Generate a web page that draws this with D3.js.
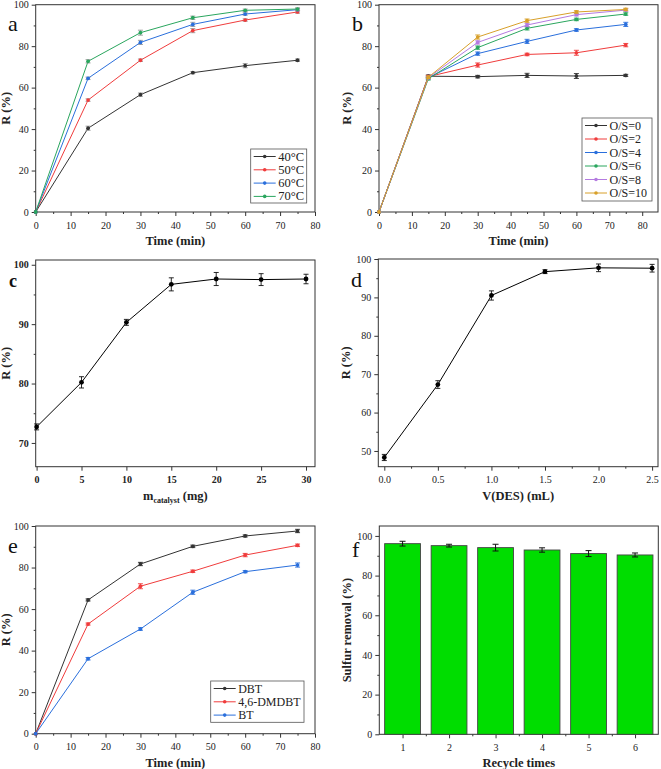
<!DOCTYPE html>
<html><head><meta charset="utf-8">
<script src="https://cdn.jsdelivr.net/npm/d3@7"></script>
<style>
body{margin:0;background:#fff;}
svg text{font-family:"Liberation Serif","Times New Roman","DejaVu Serif",serif !important;}
</style></head>
<body><svg id="c" width="661" height="769"></svg>
<script>
// ---------- DATA ----------
const timeX = [0, 15, 30, 45, 60, 75];

const tempLabels = ["40°C", "50°C", "60°C", "70°C"];
const temp40 = [0, 40.4, 56.6, 67.2, 70.6, 73.2];
const temp50 = [0, 54.0, 73.2, 87.5, 92.6, 96.5];
const temp60 = [0, 64.5, 81.8, 90.5, 95.5, 97.6];
const temp70 = [0, 72.7, 86.5, 93.7, 97.3, 97.9];
const tempErr = [[0,1.0,0.8,0.5,1.0,0.6],[0,0.6,0.6,1.0,0.6,0.6],[0,0.6,1.0,1.0,0.6,0.6],[0,0.8,1.2,0.8,0.6,0.6]];

const osLabels = ["O/S=0", "O/S=2", "O/S=4", "O/S=6", "O/S=8", "O/S=10"];
const os0  = [0, 65.5, 65.3, 65.9, 65.6, 65.9];
const os2  = [0, 65.3, 70.9, 76.0, 76.8, 80.5];
const os4  = [0, 64.8, 76.4, 82.3, 87.8, 90.5];
const os6  = [0, 64.3, 79.3, 88.6, 92.9, 95.5];
const os8  = [0, 64.8, 81.8, 90.2, 95.2, 97.4];
const os10 = [0, 65.0, 84.4, 92.3, 96.5, 97.7];
const osErr = [[0,0.6,0.6,1.0,1.2,0.5],[0,0.6,1.0,0.6,1.2,0.8],[0,0.6,0.8,1.0,0.6,1.0],[0,0.6,0.8,0.8,0.6,0.6],[0,0.6,0.8,0.8,0.6,0.6],[0,0.6,1.0,0.8,0.6,0.6]];

const catX = [0, 5, 10, 15, 20, 25, 30];
const catR = [72.7, 80.2, 90.3, 96.7, 97.6, 97.5, 97.6];
const catErr = [0.5, 0.95, 0.5, 1.1, 1.1, 1.0, 0.8];

const desX = [0, 0.5, 1.0, 1.5, 2.0, 2.5];
const desR = [48.3, 67.3, 90.5, 96.7, 97.7, 97.6];
const desErr = [0.8, 1.0, 1.2, 0.5, 1.0, 1.0];

const sulfLabels = ["DBT", "4,6-DMDBT", "BT"];
const sDBT = [0, 64.4, 81.7, 90.2, 95.2, 97.6];
const sDMDBT = [0, 52.8, 71.0, 78.2, 86.0, 90.7];
const sBT = [0, 36.1, 50.4, 68.1, 78.0, 81.2];
const sulfErr = [[0,0.5,0.8,0.6,0.5,0.8],[0,0.5,1.2,0.6,0.8,0.6],[0,0.6,0.6,1.0,0.5,1.0]];

const recycleX = [1, 2, 3, 4, 5, 6];
const recycleR = [96.1, 95.1, 94.1, 92.9, 91.1, 90.4];
const recycleErr = [1.2, 0.7, 1.7, 1.1, 1.5, 1.0];

const cBlack = "#333333", cRed = "#f03c3c", cBlue = "#2a6fdc", cGreen = "#2aa65e", cPurple = "#b47be0", cGold = "#d8a02a";

// ---------- HELPERS ----------
const svg = d3.select("#c");

function panel(o) {
  const g = svg.append("g");
  const x = d3.scaleLinear().domain(o.xd).range([o.x0, o.x1]);
  const y = d3.scaleLinear().domain(o.yd).range([o.y1, o.y0]);
  const xa = d3.axisBottom(x).tickValues(o.xt).tickSize(4).tickSizeOuter(0).tickFormat(o.xf || (d => d));
  const ya = d3.axisLeft(y).tickValues(o.yt).tickSize(4).tickSizeOuter(0).tickFormat(d => d);
  const gx = g.append("g").attr("transform", `translate(0,${o.y1})`).call(xa);
  const gy = g.append("g").attr("transform", `translate(${o.x0},0)`).call(ya);
  g.append("g").attr("transform", `translate(0,${o.y1})`)
    .call(d3.axisBottom(x).tickValues(o.xm).tickSize(2).tickSizeOuter(0).tickFormat(""));
  g.append("g").attr("transform", `translate(${o.x0},0)`)
    .call(d3.axisLeft(y).tickValues(o.ym).tickSize(2).tickSizeOuter(0).tickFormat(""));
  g.selectAll(".domain").remove();
  g.selectAll(".tick line").attr("stroke", "#333");
  [gx, gy].forEach(a => a.selectAll("text").attr("font-size", 10)
    .attr("font-weight", o.boldTicks ? "bold" : "normal").attr("fill", "#222"));
  gx.selectAll("text").attr("dy", "0.95em");
  g.append("rect").attr("x", o.x0).attr("y", o.y0).attr("width", o.x1 - o.x0).attr("height", o.y1 - o.y0)
    .attr("fill", "none").attr("stroke", "#333").attr("stroke-width", 1);
  const xt = g.append("text").attr("x", (o.x0 + o.x1) / 2).attr("y", o.y1 + 33).attr("text-anchor", "middle")
    .attr("font-weight", "bold").attr("font-size", 12.5).attr("fill", "#222");
  if (o.xsub) {
    xt.append("tspan").text(o.xtitle[0]);
    xt.append("tspan").attr("font-size", 8).attr("dy", 3).text(o.xsub);
    xt.append("tspan").attr("dy", -3).text(o.xtitle[1]);
  } else xt.text(o.xtitle);
  g.append("text").attr("transform", `translate(${o.x0 - o.ytOff},${(o.y0 + o.y1) / 2}) rotate(-90)`)
    .attr("text-anchor", "middle").attr("font-weight", "bold").attr("font-size", 12.5).attr("fill", "#222").text(o.ytitle);
  g.append("text").attr("x", o.lx).attr("y", o.ly).attr("font-size", o.lsize || 22)
    .attr("font-weight", o.lbold ? "bold" : "normal").attr("fill", "#111").text(o.letter);
  return { g, x, y };
}

function series(p, xs, ys, errs, color, r, ecolor) {
  const pts = xs.map((d, i) => ({ x: d, y: ys[i], e: errs[i] }));
  p.g.append("path").datum(pts).attr("fill", "none").attr("stroke", color).attr("stroke-width", 1)
    .attr("d", d3.line().x(d => p.x(d.x)).y(d => p.y(d.y)));
  const eb = p.g.append("g").attr("stroke", ecolor || color).attr("stroke-width", 0.9);
  pts.filter(d => d.e > 0).forEach(d => {
    const cx = p.x(d.x), t = p.y(d.y + d.e), b = p.y(d.y - d.e);
    eb.append("line").attr("x1", cx).attr("x2", cx).attr("y1", t).attr("y2", b);
    eb.append("line").attr("x1", cx - 2.5).attr("x2", cx + 2.5).attr("y1", t).attr("y2", t);
    eb.append("line").attr("x1", cx - 2.5).attr("x2", cx + 2.5).attr("y1", b).attr("y2", b);
  });
  p.g.selectAll(null).data(pts).enter().append("circle").attr("cx", d => p.x(d.x)).attr("cy", d => p.y(d.y))
    .attr("r", r).attr("fill", color);
}

function legend(bx, by, bw, bh, labels, colors, step, fs) {
  const g = svg.append("g");
  g.append("rect").attr("x", bx).attr("y", by).attr("width", bw).attr("height", bh)
    .attr("fill", "#fff").attr("stroke", "#555").attr("stroke-width", 0.8);
  labels.forEach((l, i) => {
    const yy = by + 7.5 + i * step;
    g.append("line").attr("x1", bx + 3).attr("x2", bx + 25).attr("y1", yy).attr("y2", yy)
      .attr("stroke", colors[i]).attr("stroke-width", 1);
    g.append("circle").attr("cx", bx + 14).attr("cy", yy).attr("r", 1.8).attr("fill", colors[i]);
    g.append("text").attr("x", bx + 27.5).attr("y", yy + 4).attr("font-size", fs).attr("fill", "#222").text(l);
  });
}

// ---------- PANEL a ----------
const pa = panel({ x0: 35.7, x1: 315, y0: 4.7, y1: 212, xd: [0, 80], yd: [0, 100],
  xt: d3.range(0, 81, 10), xm: d3.range(5, 80, 10), yt: d3.range(0, 101, 20), ym: d3.range(10, 100, 20),
  xtitle: "Time (min)", ytitle: "R (%)", ytOff: 26, letter: "a", lx: 8, ly: 31 });
const tempColors = [cBlack, cRed, cBlue, cGreen];
[temp40, temp50, temp60, temp70].forEach((s, i) => series(pa, timeX, s, tempErr[i], tempColors[i], 1.9, "#999"));
legend(250.7, 149, 56, 54, tempLabels, tempColors, 13.3, 12.5);

// ---------- PANEL b ----------
const pb = panel({ x0: 379, x1: 658, y0: 4.7, y1: 212, xd: [0, 84.8], yd: [0, 100],
  xt: d3.range(0, 81, 10), xm: d3.range(5, 85, 10), yt: d3.range(0, 101, 20), ym: d3.range(10, 100, 20),
  xtitle: "Time (min)", ytitle: "R (%)", ytOff: 28, letter: "b", lx: 352, ly: 31 });
const osColors = [cBlack, cRed, cBlue, cGreen, cPurple, cGold];
[os0, os2, os4, os6, os8, os10].forEach((s, i) => series(pb, timeX, s, osErr[i], osColors[i], 1.9));
legend(582, 118, 70, 83, osLabels, osColors, 13.5, 12);

// ---------- PANEL c ----------
const pc = panel({ x0: 35.7, x1: 315, y0: 260, y1: 466.7, xd: [-0.1, 31], yd: [66, 100.8],
  xt: d3.range(0, 31, 5), xm: [], yt: [70, 80, 90, 100], ym: [75, 85, 95],
  xtitle: ["m", " (mg)"], xsub: "catalyst", ytitle: "R (%)", ytOff: 26, letter: "c", lx: 9, ly: 287, lsize: 18, lbold: true, boldTicks: true });
series(pc, catX, catR, catErr, "#000", 2.4, "#111");

// ---------- PANEL d ----------
const pd = panel({ x0: 378.3, x1: 658, y0: 259, y1: 466.7, xd: [-0.056, 2.555], yd: [45.9, 100],
  xt: [0, 0.5, 1.0, 1.5, 2.0, 2.5], xm: [0.25, 0.75, 1.25, 1.75, 2.25], yt: [50, 60, 70, 80, 90, 100], ym: [55, 65, 75, 85, 95],
  xf: d3.format(".1f"), xtitle: "V(DES) (mL)", ytitle: "R (%)", ytOff: 28, letter: "d", lx: 351, ly: 287 });
series(pd, desX, desR, desErr, "#000", 2.4, "#111");

// ---------- PANEL e ----------
const pe = panel({ x0: 35.7, x1: 315, y0: 526, y1: 733.7, xd: [0, 80], yd: [0, 100],
  xt: d3.range(0, 81, 10), xm: d3.range(5, 80, 10), yt: d3.range(0, 101, 20), ym: d3.range(10, 100, 20),
  xtitle: "Time (min)", ytitle: "R (%)", ytOff: 26, letter: "e", lx: 8, ly: 553 });
const sulfColors = [cBlack, cRed, cBlue];
[sDBT, sDMDBT, sBT].forEach((s, i) => series(pe, timeX, s, sulfErr[i], sulfColors[i], 1.9));
legend(210.7, 681, 93.3, 41.3, sulfLabels, sulfColors, 13.3, 12);

// ---------- PANEL f ----------
const pf = panel({ x0: 379.3, x1: 658.3, y0: 526, y1: 734.3, xd: [0.5, 6.5], yd: [0, 105],
  xt: recycleX, xm: [1.5, 2.5, 3.5, 4.5, 5.5], yt: d3.range(0, 101, 20), ym: d3.range(10, 101, 20),
  xtitle: "Recycle times", ytitle: "Sulfur removal (%)", ytOff: 28, letter: "f", lx: 352, ly: 557 });
const bw = (pf.x(2) - pf.x(1)) * 0.77;
const bars = pf.g.append("g");
recycleX.forEach((d, i) => {
  bars.append("rect").attr("x", pf.x(d) - bw / 2).attr("y", pf.y(recycleR[i])).attr("width", bw)
    .attr("height", pf.y(0) - pf.y(recycleR[i])).attr("fill", "#00dd00").attr("stroke", "#444").attr("stroke-width", 0.9);
  const cx = pf.x(d), t = pf.y(recycleR[i] + recycleErr[i]), b = pf.y(recycleR[i] - recycleErr[i]);
  bars.append("line").attr("x1", cx).attr("x2", cx).attr("y1", t).attr("y2", b).attr("stroke", "#111");
  bars.append("line").attr("x1", cx - 3).attr("x2", cx + 3).attr("y1", t).attr("y2", t).attr("stroke", "#111");
  bars.append("line").attr("x1", cx - 3).attr("x2", cx + 3).attr("y1", b).attr("y2", b).attr("stroke", "#111");
});
</script></body></html>
